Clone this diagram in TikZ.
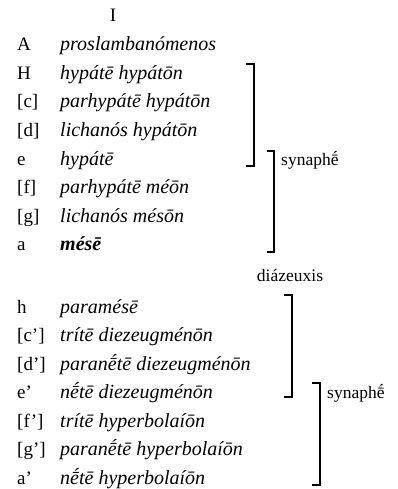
\documentclass[tikz,border=0pt]{standalone}
\usepackage{fontspec}
\setmainfont{Liberation Serif}
\begin{document}
\begin{tikzpicture}[x=1pt,y=-1pt,font=\fontsize{17.5}{20}\selectfont]
\tikzset{
  key/.style={anchor=base west,inner sep=0pt,font=\fontsize{19}{22}\selectfont},
  tone/.style={anchor=base west,inner sep=0pt,font=\fontsize{20}{22}\selectfont\itshape},
  brk/.style={line width=1.8pt,line cap=rect},
  gap/.style={anchor=base west,inner sep=0pt}
}
\path[use as bounding box] (0,0) rectangle (398,489);
\node[anchor=base,inner sep=0pt,font=\fontsize{19}{22}\selectfont] (sysI) at (113,22) {I};
% upper system
\node[key] (kA) at (17,51) {A};
\node[tone] (tA) at (60,51) {proslambanómenos};
\node[key] (kH) at (17,79.5) {H};
\node[tone] (tH) at (60,79.5) {hypátē hypátōn};
\node[key] (kc) at (17,108) {[c]};
\node[tone] (tc) at (60,108) {parhypátē hypátōn};
\node[key] (kd) at (17,136.5) {[d]};
\node[tone] (td) at (60,136.5) {lichanós hypátōn};
\node[key] (ke) at (17,165) {e};
\node[tone] (te) at (60,165) {hypátē};
\node[key] (kf) at (17,193.5) {[f]};
\node[tone] (tf) at (60,193.5) {parhypátē méōn};
\node[key] (kg) at (17,222) {[g]};
\node[tone] (tg) at (60,222) {lichanós mésōn};
\node[key] (ka) at (17,250.5) {a};
\node[tone] (ta) at (60,250.5) {\bfseries mésē};
\draw[brk] (247,64) -- (254,64) -- (254,166) -- (247,166);
\draw[brk] (268,151) -- (274,151) -- (274,252) -- (268,252);
\node[gap] (synU) at (281,165) {synaphḗ};
% diazeuxis
\node[anchor=base,inner sep=0pt] (diaz) at (290,281) {diázeuxis};
% lower system
\node[key] (kh) at (17,313) {h};
\node[tone] (th) at (60,313) {paramésē};
\node[key] (kc2) at (17,341.5) {[c']};
\node[tone] (tc2) at (60,341.5) {trítē diezeugménōn};
\node[key] (kd2) at (17,370) {[d']};
\node[tone] (td2) at (60,370) {paranḗtē diezeugménōn};
\node[key] (ke2) at (17,398.5) {e'};
\node[tone] (te2) at (60,398.5) {nḗtē diezeugménōn};
\node[key] (kf2) at (17,427) {[f']};
\node[tone] (tf2) at (60,427) {trítē hyperbolaíōn};
\node[key] (kg2) at (17,455.5) {[g']};
\node[tone] (tg2) at (60,455.5) {paranḗtē hyperbolaíōn};
\node[key] (ka2) at (17,484) {a'};
\node[tone] (ta2) at (60,484) {nḗtē hyperbolaíōn};
\draw[brk] (285,295) -- (292,295) -- (292,397) -- (285,397);
\draw[brk] (313,383) -- (320,383) -- (320,485) -- (313,485);
\node[gap] (synL) at (327,398.5) {synaphḗ};
\end{tikzpicture}
\end{document}
